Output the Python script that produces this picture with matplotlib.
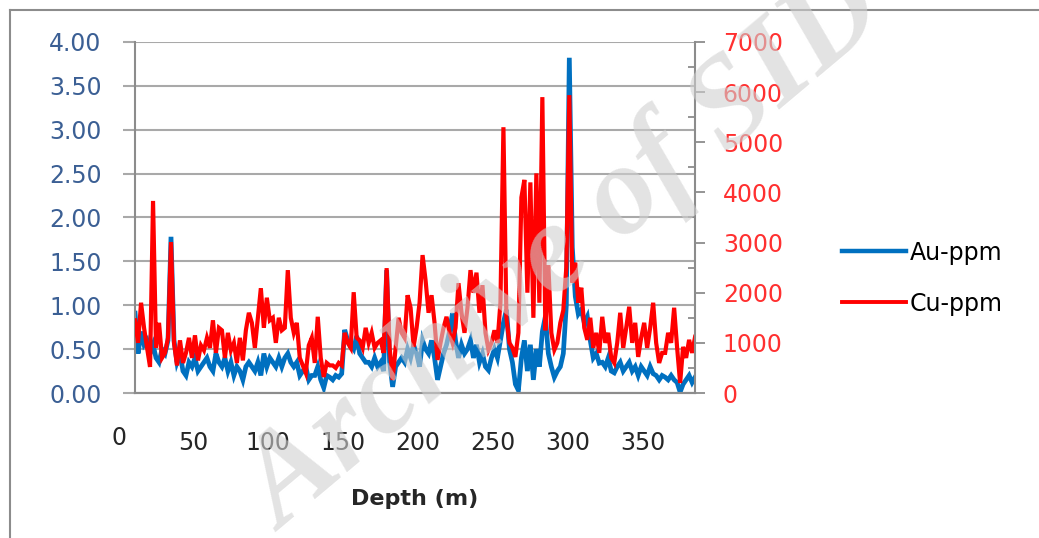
import numpy as np
import matplotlib.pyplot as plt
from matplotlib.lines import Line2D
from matplotlib.transforms import blended_transform_factory

# depth every 2 m
depth = np.arange(11, 386, 2)

au_ppm = [
    0.91, 0.45, 0.70, 0.55, 0.60, 0.45, 0.55, 0.40, 0.35, 0.50,
    0.45, 0.60, 1.78, 0.60, 0.35, 0.45, 0.25, 0.20, 0.35, 0.30,
    0.40, 0.25, 0.30, 0.35, 0.40, 0.30, 0.25, 0.45, 0.35, 0.30,
    0.40, 0.25, 0.35, 0.20, 0.30, 0.25, 0.15, 0.30, 0.35, 0.30,
    0.25, 0.35, 0.20, 0.45, 0.30, 0.40, 0.35, 0.30, 0.40, 0.30,
    0.40, 0.45, 0.35, 0.30, 0.35, 0.20, 0.25, 0.30, 0.15, 0.20,
    0.20, 0.30, 0.15, 0.06, 0.20, 0.18, 0.15, 0.20, 0.18, 0.22,
    0.72, 0.60, 0.55, 0.50, 0.65, 0.45, 0.40, 0.35, 0.35, 0.30,
    0.40, 0.30, 0.35, 0.25, 1.40, 0.35, 0.07, 0.30, 0.35, 0.40,
    0.35, 0.50, 0.40, 0.55, 0.45, 0.30, 0.60, 0.50, 0.45, 0.60,
    0.40, 0.15, 0.30, 0.45, 0.55, 0.70, 0.91, 0.60, 0.40, 0.55,
    0.45, 0.50, 0.60, 0.40, 0.55, 0.35, 0.45, 0.30, 0.26, 0.40,
    0.50, 0.40, 0.60, 0.80, 0.95, 0.50, 0.35, 0.10, 0.03, 0.40,
    0.60, 0.25, 0.55, 0.15, 0.50, 0.30, 0.70, 0.87, 0.45, 0.30,
    0.18, 0.25, 0.30, 0.45, 1.00, 3.82, 1.66, 1.10, 0.90, 0.95,
    0.80, 0.87, 0.60, 0.40, 0.45, 0.34, 0.35, 0.30, 0.40, 0.25,
    0.23, 0.30, 0.35, 0.25, 0.30, 0.35, 0.25, 0.30, 0.20, 0.30,
    0.25, 0.20, 0.30, 0.22, 0.20, 0.15, 0.20, 0.18, 0.15, 0.20,
    0.15, 0.12, 0.01, 0.10, 0.15, 0.20, 0.12, 0.18,
]

cu_ppm = [
    1450, 1000, 1800, 1300, 900, 520, 3830, 900, 1400, 700,
    800, 1100, 3010, 1000, 550, 1050, 600, 800, 1100, 700,
    1150, 650, 950, 850, 1100, 900, 1450, 800, 1300, 1250,
    700, 1200, 850, 1000, 600, 1100, 650, 1250, 1600, 1400,
    900, 1500, 2090, 1300, 1900, 1450, 1500, 1000, 1500, 1250,
    1300, 2450, 1500, 1200, 1400, 700, 550, 400, 950, 1100,
    600, 1520, 700, 320, 600, 550, 550, 500, 600, 550,
    1200, 1000, 900, 2010, 1100, 1050, 900, 1300, 1000, 1200,
    900, 1000, 1050, 800, 2490, 900, 260, 900, 1500, 1200,
    1100, 1950, 1700, 920, 1300, 1800, 2750, 2250, 1600, 1950,
    1400, 660, 1000, 1300, 1520, 1200, 1000, 1300, 2190, 1600,
    1200, 1700, 2450, 2000, 2400, 1600, 2150, 1200, 860, 1000,
    1250, 1000, 1800, 5300, 1500, 1000, 900, 720, 1200, 3900,
    4250, 2000, 4200, 1500, 4380, 1800, 5900, 1250, 2550, 1200,
    860, 1000, 1400, 1650, 2500, 5940, 2200, 2600, 1800, 2100,
    1300, 1060, 1500, 900, 1200, 800, 1520, 1000, 1200, 700,
    600, 1000, 1600, 900, 1300, 1720, 1000, 1400, 720, 1100,
    1400, 900, 1300, 1800, 1000, 600, 800, 800, 1200, 1000,
    1700, 900, 200, 920, 700, 1060, 800, 1120,
]

x_ticks = [50, 100, 150, 200, 250, 300, 350]
au_ticks = np.arange(0, 4.01, 0.5)
cu_ticks = np.arange(0, 7001, 1000)

blue = '#0070C0'
red = '#FF0000'
grid_col = '#A9A9A9'
font = 'DejaVu Sans'

fig = plt.figure(figsize=(10.39, 5.38), dpi=100)
ax = fig.add_axes([0.130, 0.2695, 0.539, 0.6525])
ax2 = ax.twinx()

ax.plot(depth, au_ppm, color=blue, lw=3.4, label='Au-ppm', solid_joinstyle='miter')
ax2.plot(depth, cu_ppm, color=red, lw=3.0, label='Cu-ppm', solid_joinstyle='miter')

ax.set_xlim(11, 385)
ax.set_ylim(0, 4)
ax2.set_ylim(0, 7000)

ax.set_xticks(x_ticks)
ax.set_yticks(au_ticks)
ax.set_yticklabels([f'{v:.2f}' for v in au_ticks])
ax2.set_yticks(cu_ticks)
ax2.set_yticks(np.arange(500, 7000, 1000), minor=True)

ax.grid(axis='y', color=grid_col, lw=1.5)
ax.set_axisbelow(True)

for a in (ax, ax2):
    a.spines['top'].set_visible(False)
    for s in a.spines.values():
        s.set_color('#8C8C8C')
        s.set_linewidth(1.5)
ax2.spines['left'].set_visible(False)
ax.spines['right'].set_visible(False)

ax.tick_params(axis='x', length=0, pad=27, labelsize=17, labelcolor='#262626')
ax.tick_params(axis='y', direction='out', length=9, width=1.5, color=grid_col,
               pad=15, labelsize=17, labelcolor='#3B5F94')
ax2.tick_params(axis='y', which='major', direction='out', length=7, width=1.3,
                color='#8C8C8C', pad=13, labelsize=17, labelcolor='#FF3030')
ax2.tick_params(axis='y', which='minor', direction='in', length=5, width=1.3,
                color='#8C8C8C')
for lab in ax.get_xticklabels() + ax.get_yticklabels() + ax2.get_yticklabels():
    lab.set_family(font)

# the "0" depth label sits left of the plotted range
tr = blended_transform_factory(ax.transData, ax.transAxes)
ax.text(0, -0.127, '0', transform=tr, ha='center', va='center', fontsize=17,
        color='#262626', family=font, clip_on=False)

ax.set_xlabel('Depth (m)', fontsize=16, fontweight='bold', family=font,
              color='#262626', labelpad=25)

handles = [Line2D([], [], color=blue, lw=3.2), Line2D([], [], color=red, lw=2.8)]
fig.legend(handles, ['Au-ppm', 'Cu-ppm'], loc='center left',
           bbox_to_anchor=(0.790, 0.483), frameon=False,
           handlelength=2.7, handletextpad=0.15, labelspacing=1.15,
           prop={'family': font, 'size': 17})

# chart border
fig.add_artist(Line2D([0.0096, 0.0096], [0, 0.981], color='#8C8C8C', lw=1.5))
fig.add_artist(Line2D([0.0096, 1.0], [0.981, 0.981], color='#8C8C8C', lw=1.5))

# watermark
fig.text(0.545, 0.53, 'Archive of SID', rotation=40, fontsize=92,
         family='Liberation Serif', style='italic', weight='bold',
         color='#D0D0D0', alpha=0.6, ha='center', va='center', zorder=20)

fig.savefig('out.png', dpi=100)
